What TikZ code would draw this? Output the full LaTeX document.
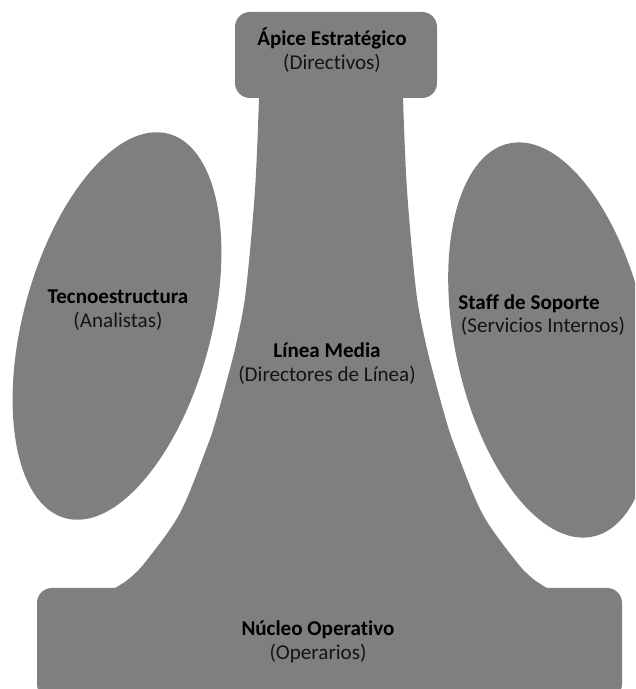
\documentclass[tikz,border=0pt]{standalone}
\usepackage{fontspec}
\setmainfont{Carlito}[Ligatures={NoCommon}]
\usetikzlibrary{calc}
\definecolor{partgray}{RGB}{127,127,127}
\definecolor{rolegray}{RGB}{20,20,20}
\tikzset{
    org chart/.style = {line join=round},
    part/.style      = {fill=partgray},
    boxpart/.style   = {part, rounded corners=8.5pt},
    unit/.style      = {inner sep=0pt, align=center,
                        font=\fontsize{12}{13.5}\selectfont}
}
\newcommand\unitlabel[2]{\textbf{#1}\\\textcolor{rolegray}{(#2)}}
\def\picwidth{12.7}
\def\picheight{13.78}

\begin{document}
\begin{tikzpicture}[org chart]
\useasboundingbox (0,0) rectangle (\picwidth,\picheight);
\clip (0,0) rectangle (\picwidth,\picheight);

% Strategic apex sitting on the middle line.
\fill[boxpart] (4.70,11.82) rectangle (8.74,13.54);

% Middle line, flaring out towards the operating core.
\fill[part] (5.18,12.2)
    -- plot[smooth, tension=0.55] coordinates {
        (5.18,11.82) (5.10,9.98) (4.92,7.98) (4.74,6.98) (4.54,6.18)
        (4.32,5.38) (4.14,4.84) (3.60,3.52) (2.94,2.58) (2.60,2.22)
        (2.30,2.02)}
    -- (2.30,1.5) -- (10.94,1.5)
    -- plot[smooth, tension=0.55] coordinates {
        (10.94,2.02) (10.64,2.22) (10.30,2.58) (9.64,3.52) (9.10,4.84)
        (8.92,5.38) (8.70,6.18) (8.50,6.98) (8.32,7.98) (8.14,9.98)
        (8.06,11.82)}
    -- (8.06,12.2) -- cycle;

% Operating core along the bottom.
\fill[boxpart] (0.74,-0.2) rectangle (12.44,2.02);

% Technostructure and support staff on either side.
\fill[part, rotate around={-15:(2.34,7.26)}]
    (2.34,7.26) ellipse [x radius=1.88, y radius=3.98];
\fill[part, rotate around={12:(11.02,6.98)}]
    (11.02,6.98) ellipse [x radius=1.92, y radius=4.02];

% Labels.
\node[unit] (apex) at (6.64,12.78) {\unitlabel{Ápice Estratégico}{Directivos}};
\node[unit] (techno) at (2.36,7.58) {\unitlabel{Tecnoestructura}{Analistas}};
\node[unit, anchor=west, align=left] (staff) at (9.16,7.48)
    {\textbf{Staff de Soporte}\\\hspace*{1.5pt}\textcolor{rolegray}{(Servicios Internos)}};
\node[unit] (middle) at (6.54,6.51) {\unitlabel{Línea Media}{Directores de Línea}};
\node[unit] (core) at (6.36,0.94) {\unitlabel{Núcleo Operativo}{Operarios}};

\end{tikzpicture}
\end{document}
